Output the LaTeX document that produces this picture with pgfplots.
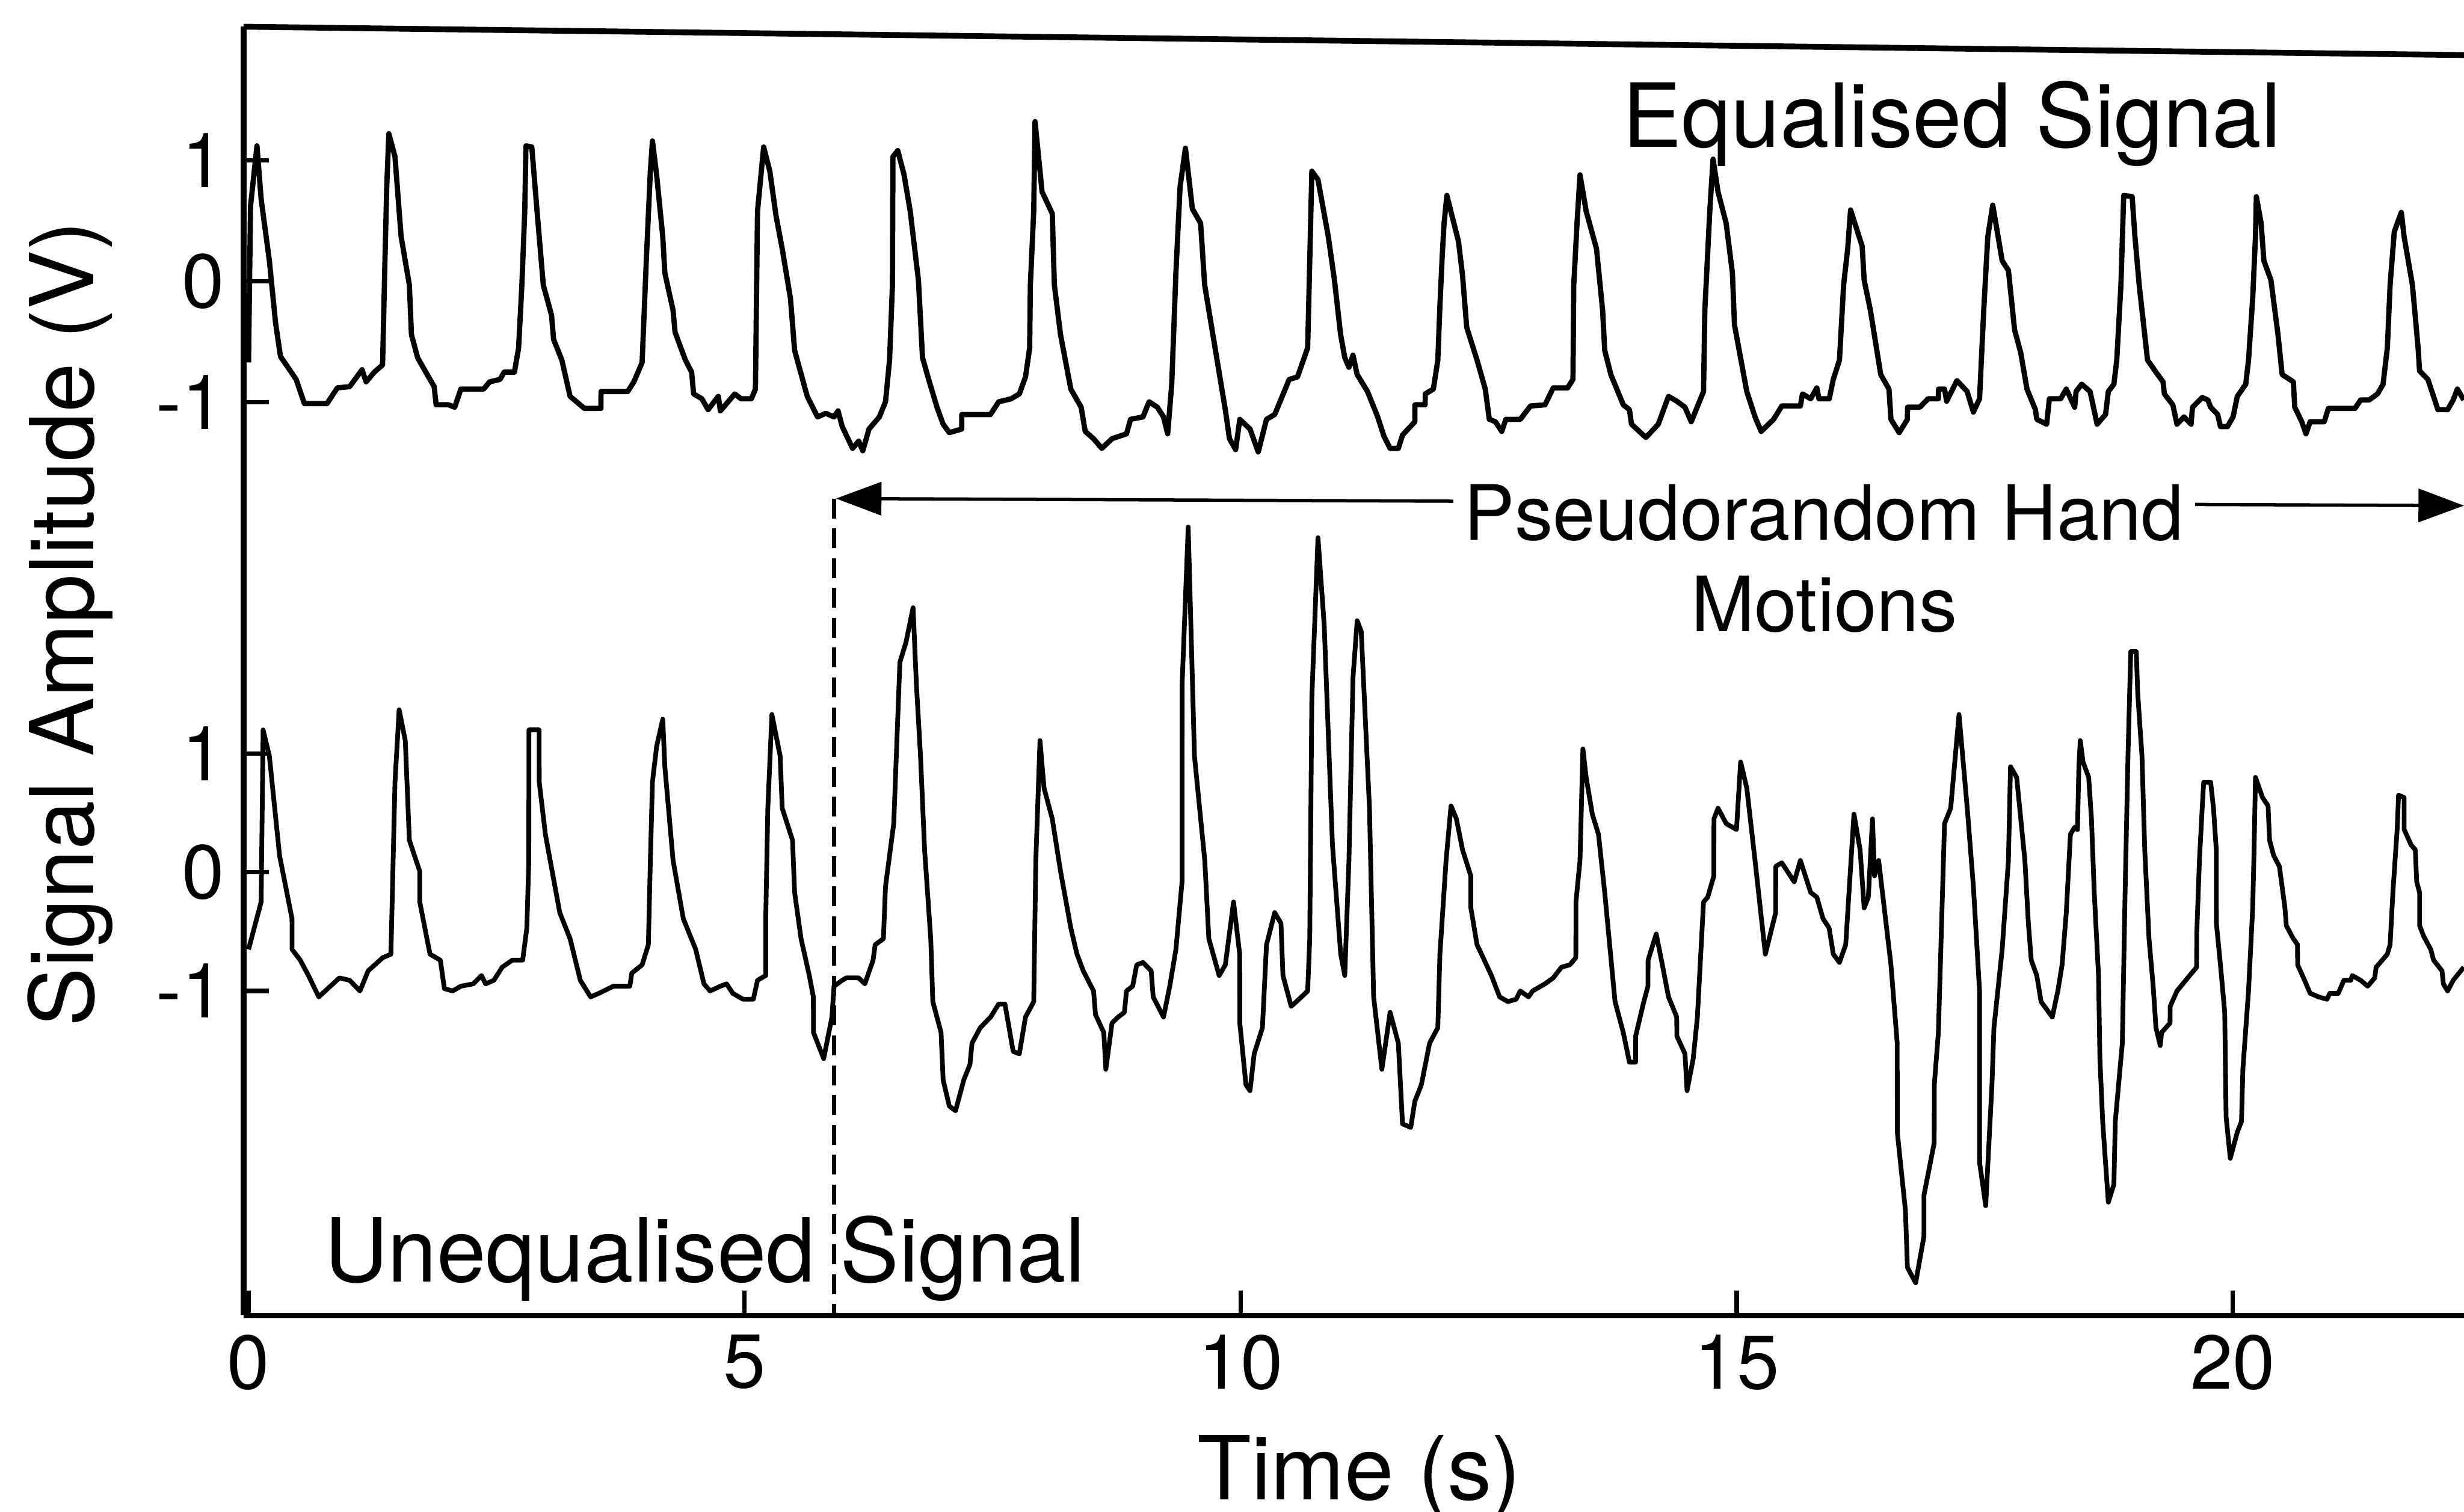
\documentclass[border=0pt]{standalone}
\usepackage{fontspec}
\setmainfont{TeX Gyre Heros}
\usepackage{pgfplots}
\usepackage{pgfplotstable}
\pgfplotsset{compat=1.18}
\usetikzlibrary{arrows.meta}

\pgfplotstableread{
t v
0.00 -0.67
0.02 0.62
0.085 1.12
0.127 0.68
0.210 0.17
0.272 -0.34
0.322 -0.62
0.480 -0.81
0.563 -1.01
0.791 -1.01
0.895 -0.88
1.019 -0.87
1.082 -0.80
1.144 -0.73
1.185 -0.83
1.268 -0.75
1.351 -0.69
1.372 0.07
1.393 0.78
1.414 1.22
1.476 1.03
1.538 0.37
1.621 -0.03
1.642 -0.44
1.704 -0.63
1.787 -0.75
1.871 -0.87
1.891 -1.02
2.016 -1.02
2.078 -1.04
2.140 -0.89
2.369 -0.89
2.431 -0.83
2.535 -0.81
2.576 -0.75
2.680 -0.75
2.722 -0.55
2.755 -0.03
2.784 0.58
2.796 1.12
2.855 1.11
2.908 0.58
2.971 -0.03
3.054 -0.28
3.075 -0.48
3.158 -0.65
3.241 -0.95
3.386 -1.05
3.552 -1.05
3.553 -0.91
3.822 -0.91
3.884 -0.83
3.967 -0.67
4.009 0.17
4.050 0.91
4.071 1.16
4.113 0.88
4.175 0.37
4.196 0.07
4.279 -0.24
4.299 -0.42
4.403 -0.65
4.466 -0.75
4.486 -0.93
4.569 -0.97
4.632 -1.06
4.735 -0.95
4.756 -1.07
4.901 -0.93
4.964 -0.97
5.068 -0.97
5.109 -0.89
5.130 0.58
5.192 1.11
5.254 0.91
5.317 0.54
5.379 0.27
5.462 -0.14
5.504 -0.57
5.631 -0.95
5.735 -1.12
5.818 -1.09
5.901 -1.12
5.942 -1.07
5.984 -1.20
6.088 -1.38
6.150 -1.32
6.191 -1.40
6.254 -1.22
6.358 -1.12
6.420 -0.995
6.461 -0.65
6.490 -0.03
6.495 1.03
6.544 1.08
6.607 0.88
6.669 0.58
6.752 0.01
6.793 -0.63
6.855 -0.81
6.939 -1.04
7.001 -1.18
7.063 -1.25
7.188 -1.22
7.189 -1.10
7.478 -1.10
7.561 -0.995
7.686 -0.97
7.769 -0.93
7.831 -0.79
7.873 -0.55
7.880 -0.03
7.914 0.58
7.927 1.32
7.998 0.74
8.101 0.56
8.122 -0.03
8.184 -0.44
8.288 -0.89
8.392 -1.04
8.433 -1.24
8.517 -1.30
8.600 -1.38
8.703 -1.30
8.849 -1.26
8.890 -1.14
9.015 -1.12
9.077 -0.995
9.160 -1.04
9.222 -1.12
9.264 -1.26
9.305 -0.85
9.347 0.07
9.389 0.78
9.443 1.10
9.513 0.60
9.596 0.48
9.637 -0.03
9.762 -0.65
9.845 -1.06
9.887 -1.30
9.949 -1.39
9.991 -1.14
10.094 -1.22
10.177 -1.41
10.260 -1.14
10.343 -1.10
10.489 -0.81
10.572 -0.79
10.675 -0.55
10.696 0.17
10.717 0.91
10.779 0.84
10.883 0.37
10.945 0.01
11.007 -0.44
11.049 -0.63
11.091 -0.71
11.132 -0.61
11.174 -0.77
11.278 -0.91
11.381 -1.12
11.444 -1.28
11.506 -1.38
11.589 -1.38
11.631 -1.27
11.755 -1.16
11.756 -1.02
11.859 -1.02
11.860 -0.93
11.942 -0.89
11.987 -0.65
12.008 -0.20
12.030 0.19
12.049 0.47
12.078 0.71
12.195 0.33
12.236 0.05
12.278 -0.38
12.382 -0.65
12.465 -0.89
12.506 -1.14
12.568 -1.16
12.631 -1.24
12.672 -1.14
12.818 -1.14
12.921 -1.03
13.067 -1.02
13.150 -0.88
13.295 -0.88
13.349 -0.81
13.357 -0.03
13.390 0.48
13.420 0.88
13.482 0.58
13.586 0.27
13.648 -0.24
13.669 -0.57
13.731 -0.77
13.856 -1.02
13.918 -1.06
13.939 -1.18
14.084 -1.29
14.209 -1.18
14.312 -0.95
14.395 -0.99
14.478 -1.04
14.541 -1.16
14.665 -0.91
14.678 -0.24
14.728 0.58
14.761 1.01
14.811 0.74
14.893 0.48
14.956 0.07
14.977 -0.36
15.101 -0.91
15.184 -1.12
15.246 -1.24
15.371 -1.14
15.454 -1.03
15.641 -1.03
15.662 -0.93
15.745 -0.97
15.807 -0.88
15.828 -0.97
15.932 -0.97
15.973 -0.81
16.035 -0.65
16.077 -0.03
16.118 0.27
16.147 0.59
16.264 0.29
16.284 0.01
16.347 -0.24
16.451 -0.77
16.534 -0.89
16.554 -1.14
16.637 -1.25
16.720 -1.14
16.721 -1.04
16.845 -1.04
16.928 -0.97
17.032 -0.97
17.033 -0.89
17.094 -0.89
17.115 -0.99
17.219 -0.82
17.322 -0.91
17.385 -1.08
17.447 -0.97
17.489 -0.24
17.530 0.37
17.580 0.63
17.634 0.37
17.675 0.17
17.738 0.09
17.800 -0.40
17.862 -0.59
17.925 -0.89
18.010 -1.06
18.024 -1.14
18.123 -1.18
18.151 -0.97
18.264 -0.97
18.321 -0.89
18.406 -1.04
18.420 -0.91
18.476 -0.85
18.561 -0.91
18.632 -1.18
18.717 -1.10
18.745 -0.91
18.801 -0.85
18.830 -0.65
18.872 -0.03
18.900 0.71
18.985 0.70
19.013 0.37
19.056 -0.03
19.140 -0.65
19.225 -0.75
19.296 -0.83
19.310 -0.93
19.395 -1.02
19.437 -1.18
19.508 -1.12
19.579 -1.18
19.593 -1.04
19.691 -0.96
19.748 -0.98
19.776 -1.04
19.847 -1.10
19.875 -1.20
19.946 -1.20
20.002 -1.12
20.045 -0.95
20.130 -0.85
20.158 -0.65
20.200 -0.14
20.228 0.37
20.237 0.70
20.285 0.48
20.313 0.17
20.384 0.01
20.455 -0.44
20.497 -0.77
20.610 -0.83
20.624 -1.04
20.695 -1.16
20.737 -1.26
20.779 -1.16
20.921 -1.16
20.963 -1.05
21.231 -1.05
21.288 -0.98
21.373 -0.98
21.458 -0.93
21.514 -0.85
21.557 -0.55
21.585 -0.03
21.627 0.41
21.698 0.57
21.726 0.37
21.768 0.17
21.810 -0.03
21.867 -0.55
21.882 -0.74
21.966 -0.81
22.051 -1.02
22.066 -1.06
22.165 -1.06
22.221 -0.98
22.263 -0.89
22.328 -0.98
}\equalisedtab

\pgfplotstableread{
t v
0.00 -0.65
0.127 -0.25
0.147 1.20
0.210 0.98
0.313 0.14
0.438 -0.39
0.439 -0.65
0.521 -0.74
0.604 -0.87
0.708 -1.05
0.916 -0.89
1.019 -0.91
1.123 -1.00
1.206 -0.83
1.352 -0.72
1.435 -0.69
1.455 0.01
1.476 0.76
1.518 1.37
1.580 1.11
1.621 0.27
1.725 0.01
1.726 -0.25
1.829 -0.69
1.933 -0.74
1.974 -0.98
2.057 -1.00
2.140 -0.96
2.265 -0.94
2.348 -0.87
2.390 -0.94
2.473 -0.91
2.556 -0.80
2.659 -0.74
2.763 -0.74
2.805 -0.47
2.825 0.10
2.826 1.20
2.929 1.20
2.930 0.76
2.992 0.32
3.137 -0.34
3.241 -0.56
3.344 -0.91
3.448 -1.05
3.531 -1.02
3.677 -0.96
3.843 -0.96
3.863 -0.85
3.967 -0.78
4.030 -0.61
4.050 0.10
4.071 0.76
4.113 1.06
4.175 1.29
4.196 0.89
4.279 0.10
4.382 -0.39
4.507 -0.65
4.590 -0.94
4.652 -1.00
4.756 -0.96
4.818 -0.94
4.881 -1.02
4.984 -1.07
5.088 -1.07
5.130 -0.91
5.213 -0.87
5.214 -0.34
5.234 0.54
5.275 1.33
5.358 0.98
5.379 0.54
5.483 0.27
5.504 -0.17
5.569 -0.56
5.652 -0.87
5.693 -1.05
5.694 -1.35
5.797 -1.57
5.880 -1.22
5.901 -0.96
5.984 -0.91
6.025 -0.89
6.150 -0.89
6.212 -0.94
6.295 -0.74
6.316 -0.61
6.399 -0.56
6.420 -0.12
6.503 0.41
6.565 1.77
6.627 1.94
6.698 2.23
6.731 1.59
6.773 0.98
6.814 0.19
6.876 -0.56
6.897 -1.09
6.980 -1.35
7.001 -1.75
7.063 -1.97
7.126 -2.01
7.209 -1.75
7.271 -1.62
7.292 -1.44
7.375 -1.31
7.479 -1.22
7.561 -1.11
7.624 -1.11
7.707 -1.51
7.769 -1.53
7.831 -1.22
7.914 -1.09
7.935 0.10
7.977 1.11
8.018 0.71
8.101 0.45
8.184 0.01
8.288 -0.47
8.350 -0.69
8.413 -0.83
8.517 -1.00
8.537 -1.20
8.620 -1.35
8.641 -1.66
8.703 -1.27
8.765 -1.22
8.828 -1.18
8.849 -1.00
8.911 -0.96
8.952 -0.78
9.015 -0.76
9.098 -0.83
9.118 -1.05
9.222 -1.22
9.285 -0.96
9.347 -0.65
9.409 -0.08
9.410 1.59
9.471 2.91
9.534 0.98
9.638 0.10
9.679 -0.56
9.783 -0.87
9.845 -0.78
9.928 -0.25
9.990 -0.69
9.991 -1.27
10.053 -1.79
10.094 -1.84
10.136 -1.53
10.219 -1.31
10.260 -0.61
10.343 -0.34
10.406 -0.43
10.426 -0.87
10.509 -1.13
10.613 -1.05
10.675 -1.00
10.696 -0.56
10.717 1.47
10.779 2.82
10.842 2.08
10.925 0.23
11.008 -0.69
11.049 -0.87
11.091 0.10
11.132 1.64
11.174 2.12
11.215 2.03
11.298 0.54
11.340 -1.05
11.423 -1.66
11.506 -1.18
11.589 -1.44
11.631 -2.12
11.714 -2.15
11.755 -1.93
11.821 -1.79
11.904 -1.44
11.987 -1.31
12.008 -0.69
12.070 0.10
12.120 0.56
12.174 0.45
12.236 0.19
12.319 -0.03
12.320 -0.30
12.382 -0.61
12.444 -0.72
12.527 -0.87
12.610 -1.05
12.693 -1.09
12.776 -1.07
12.818 -1.00
12.901 -1.05
12.942 -1.00
13.067 -0.94
13.150 -0.89
13.233 -0.80
13.316 -0.78
13.378 -0.72
13.379 -0.25
13.420 0.10
13.449 1.04
13.482 0.80
13.544 0.49
13.606 0.32
13.669 -0.17
13.773 -1.09
13.856 -1.35
13.918 -1.60
13.980 -1.60
13.981 -1.38
14.063 -1.09
14.105 -0.96
14.106 -0.74
14.188 -0.52
14.250 -0.78
14.312 -1.05
14.395 -1.22
14.396 -1.38
14.478 -1.53
14.499 -1.84
14.561 -1.57
14.603 -1.22
14.665 -0.25
14.707 -0.21
14.769 -0.03
14.770 0.45
14.811 0.54
14.894 0.41
14.997 0.36
15.039 0.93
15.101 0.71
15.184 0.10
15.288 -0.69
15.392 -0.34
15.393 0.05
15.454 0.08
15.579 -0.08
15.641 0.10
15.745 -0.17
15.807 -0.21
15.869 -0.39
15.931 -0.47
15.973 -0.69
16.035 -0.76
16.098 -0.61
16.181 0.49
16.243 0.19
16.284 -0.30
16.326 -0.21
16.368 0.45
16.388 -0.03
16.430 0.10
16.554 -0.78
16.617 -1.44
16.618 -2.19
16.700 -2.85
16.720 -3.33
16.803 -3.46
16.886 -3.07
16.887 -2.72
16.990 -2.28
16.991 -1.79
17.032 -1.35
17.094 0.41
17.156 0.54
17.240 1.33
17.323 0.54
17.385 -0.12
17.447 -1.00
17.448 -2.45
17.509 -2.81
17.572 -1.79
17.592 -1.31
17.675 -0.65
17.738 0.10
17.759 0.89
17.821 0.80
17.904 0.10
17.939 -0.43
17.968 -0.74
18.024 -0.87
18.067 -1.09
18.180 -1.22
18.236 -1.00
18.279 -0.78
18.321 -0.34
18.363 0.32
18.406 0.38
18.434 0.36
18.448 0.89
18.462 1.11
18.490 0.93
18.547 0.80
18.575 0.45
18.603 -0.17
18.646 -0.87
18.660 -1.57
18.688 -2.10
18.717 -2.45
18.745 -2.78
18.801 -2.63
18.815 -2.10
18.886 -1.44
18.914 -0.17
18.943 0.98
18.971 1.86
19.027 1.86
19.041 1.51
19.084 0.98
19.112 0.19
19.155 -0.56
19.197 -0.96
19.225 -1.31
19.268 -1.46
19.282 -1.35
19.367 -1.27
19.368 -1.13
19.437 -1.00
19.564 -0.87
19.635 -0.80
19.636 -0.52
19.663 0.10
19.691 0.54
19.706 0.76
19.776 0.76
19.805 0.54
19.833 0.19
19.834 -0.43
19.875 -0.78
19.918 -1.18
19.932 -2.06
19.974 -2.41
20.045 -2.19
20.087 -2.10
20.101 -1.66
20.158 -1.00
20.200 -0.30
20.214 0.19
20.228 0.80
20.299 0.63
20.355 0.56
20.370 0.27
20.412 0.14
20.469 0.05
20.525 -0.30
20.539 -0.45
20.610 -0.56
20.652 -0.61
20.653 -0.78
20.723 -0.91
20.779 -1.02
20.864 -1.05
20.949 -1.07
20.977 -1.02
21.062 -1.02
21.119 -0.91
21.189 -0.91
21.203 -0.87
21.288 -0.91
21.359 -0.96
21.430 -0.89
21.444 -0.80
21.486 -0.76
21.557 -0.69
21.585 -0.61
21.613 -0.17
21.656 0.36
21.670 0.65
21.726 0.63
21.727 0.36
21.797 0.23
21.839 0.19
21.853 -0.08
21.882 -0.17
21.883 -0.45
21.924 -0.54
21.995 -0.65
22.023 -0.74
22.108 -0.83
22.122 -0.94
22.164 -1.00
22.221 -0.91
22.328 -0.80
}\unequalisedtab

\begin{document}
\begin{tikzpicture}
\useasboundingbox (-1.55,-1.25) rectangle (14.13,8.37);
\begin{axis}[
  scale only axis,
  width=14.13cm, height=8.20cm,
  xmin=-0.05, xmax=22.33, ymin=-3.735, ymax=7.126,
  axis x line*=bottom, axis y line*=left,
  axis line style={line width=1.05pt, black},
  xtick={0,5,10,15,20}, xticklabels={0,5,10,15,20},
  ytick={-1,0,1,3.96,4.98,6.00}, yticklabels={-1,0,1,-1,0,1},
  tick align=inside,
  major tick length=0.16cm,
  tick style={line width=0.8pt, black},
  ticklabel style={font=\fontsize{13.8}{16}\selectfont},
  clip=false,
]
\addplot[black, line width=0.95pt, line join=round] table[x=t, y expr=4.98+1.02*\thisrow{v}] {\equalisedtab};
\addplot[black, line width=0.85pt, line join=round] table[x=t, y=v] {\unequalisedtab};
% slanted top frame line as in the scan
\draw[line width=1.05pt] (axis cs:-0.05,7.126) -- (axis cs:22.33,6.887);
% double arrow
\draw[line width=0.6pt, {Triangle[length=0.29cm,width=0.21cm]}-{Triangle[length=0.29cm,width=0.21cm]}] (axis cs:5.92,3.15) -- (axis cs:22.33,3.09);
% dashed marker
\draw[line width=0.8pt, dash pattern=on 3.6pt off 1.8pt] (axis cs:5.90,3.15) -- (axis cs:5.90,-3.735);
\node[anchor=base, fill=white, inner xsep=0.07cm, inner ysep=0.04cm, font=\fontsize{13.8}{16.7}\selectfont] at (axis cs:15.88,2.80) {Pseudorandom Hand};
\node[anchor=base, font=\fontsize{13.8}{16.7}\selectfont] at (axis cs:15.88,2.03) {Motions};
\node[anchor=base, font=\fontsize{16}{19}\selectfont] at (axis cs:17.17,6.11) {Equalised Signal};
\node[anchor=base, font=\fontsize{16}{19}\selectfont] at (axis cs:4.60,-3.45) {Unequalised Signal};
\end{axis}
\node[rotate=90, anchor=base, font=\fontsize{16}{19}\selectfont] at (-0.955,4.40) {Signal Amplitude (V)};
\node[anchor=base, font=\fontsize{16}{19}\selectfont] at (7.10,-1.17) {Time (s)};
\end{tikzpicture}
\end{document}
